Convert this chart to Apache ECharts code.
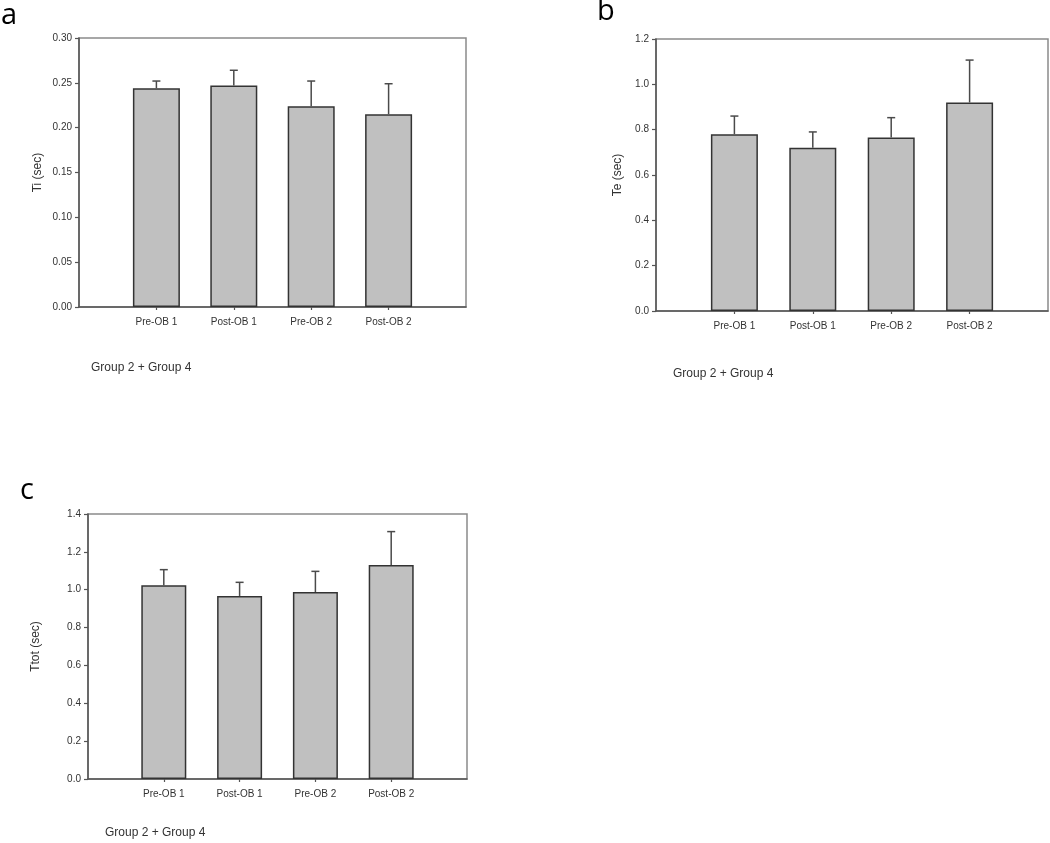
<!DOCTYPE html>
<html>
<head>
<meta charset="utf-8">
<script src="https://cdn.jsdelivr.net/npm/echarts@6/dist/echarts.min.js"></script>
<style>html,body{margin:0;padding:0;background:#fff;}#main{width:1050px;height:843px;}</style>
</head>
<body>
<div id="main"></div>
<script>
var categories = ['Pre-OB 1', 'Post-OB 1', 'Pre-OB 2', 'Post-OB 2'];
var tiMean = [0.244, 0.247, 0.224, 0.215];
var tiSE = [0.008, 0.017, 0.028, 0.034];
var teMean = [0.78, 0.72, 0.765, 0.92];
var teSE = [0.08, 0.07, 0.088, 0.187];
var ttotMean = [1.023, 0.967, 0.988, 1.131];
var ttotSE = [0.083, 0.072, 0.109, 0.176];
var groupLabel = 'Group 2 + Group 4';

var FONT = '"Liberation Sans", Arial, sans-serif';
var axisCats = [''].concat(categories).concat(['']);
function inner(i) { return i > 0 && i < axisCats.length - 1; }

var panels = [
  {letter: 'a', mean: tiMean, se: tiSE, name: 'Ti (sec)', max: 0.30, interval: 0.05, dec: 2,
   grid: {left: 79, top: 38, width: 387, height: 269}, barWidth: 47, nameGap: 35,
   letterPos: {left: 1, top: 1}, groupPos: {left: 91, top: 362}},
  {letter: 'b', mean: teMean, se: teSE, name: 'Te (sec)', max: 1.2, interval: 0.2, dec: 1,
   grid: {left: 656, top: 39, width: 392, height: 272}, barWidth: 47, nameGap: 32,
   letterPos: {left: 597, top: -3}, groupPos: {left: 673, top: 368}},
  {letter: 'c', mean: ttotMean, se: ttotSE, name: 'Ttot (sec)', max: 1.4, interval: 0.2, dec: 1,
   grid: {left: 88, top: 514, width: 379, height: 265}, barWidth: 45, nameGap: 46,
   letterPos: {left: 20, top: 476}, groupPos: {left: 105, top: 827}}
];

var option = {
  backgroundColor: '#fff',
  animation: false,
  title: [], grid: [], xAxis: [], yAxis: [], series: []
};

panels.forEach(function (p, k) {
  option.title.push({text: p.letter, left: p.letterPos.left, top: p.letterPos.top, padding: 0,
    textStyle: {fontFamily: '"Open Sans", sans-serif', fontSize: 29, fontWeight: 'normal', color: '#000'}});
  option.title.push({text: groupLabel, left: p.groupPos.left, top: p.groupPos.top, padding: 0,
    textStyle: {fontFamily: FONT, fontSize: 12, fontWeight: 'normal', color: '#333'}});
  option.grid.push(Object.assign({show: true, borderColor: '#8a8a8a', borderWidth: 1.5, backgroundColor: 'transparent'}, p.grid));
  option.xAxis.push({
    type: 'category', gridIndex: k, data: axisCats, boundaryGap: false,
    axisLine: {lineStyle: {color: '#555', width: 1.5}},
    axisTick: {length: 3, interval: function (i) { return inner(i); }, lineStyle: {color: '#555', width: 1.2}},
    axisLabel: {interval: function (i) { return inner(i); }, margin: 10, fontFamily: FONT, fontSize: 10, color: '#333'},
    splitLine: {show: false}
  });
  option.yAxis.push({
    type: 'value', gridIndex: k, min: 0, max: p.max, interval: p.interval,
    name: p.name, nameLocation: 'middle', nameGap: p.nameGap,
    nameTextStyle: {fontFamily: FONT, fontSize: 12, color: '#333'},
    axisLine: {show: true, lineStyle: {color: '#555', width: 1.5}},
    axisTick: {show: true, length: 4, lineStyle: {color: '#555', width: 1.2}},
    axisLabel: {margin: 7, fontFamily: FONT, fontSize: 10, color: '#333',
      formatter: (function (d) { return function (v) { return v.toFixed(d); }; })(p.dec)},
    splitLine: {show: false}
  });
  option.series.push({
    type: 'bar', xAxisIndex: k, yAxisIndex: k, barWidth: p.barWidth,
    data: p.mean.map(function (v, i) { return [i + 1, v]; }),
    itemStyle: {color: '#c0c0c0', borderColor: '#333', borderWidth: 1.5},
    z: 2
  });
  option.series.push({
    type: 'custom', xAxisIndex: k, yAxisIndex: k, z: 3,
    data: p.mean.map(function (v, i) { return [i + 1, v, v + p.se[i]]; }),
    renderItem: function (params, api) {
      var base = api.coord([api.value(0), api.value(1)]);
      var top = api.coord([api.value(0), api.value(2)]);
      var st = {stroke: '#4a4a4a', lineWidth: 1.5};
      return {type: 'group', children: [
        {type: 'line', shape: {x1: base[0], y1: base[1], x2: top[0], y2: top[1]}, style: st},
        {type: 'line', shape: {x1: top[0] - 4, y1: top[1], x2: top[0] + 4, y2: top[1]}, style: st}
      ]};
    }
  });
});

var chart = echarts.init(document.getElementById('main'), null, {renderer: 'canvas'});
chart.setOption(option);
</script>
</body>
</html>
